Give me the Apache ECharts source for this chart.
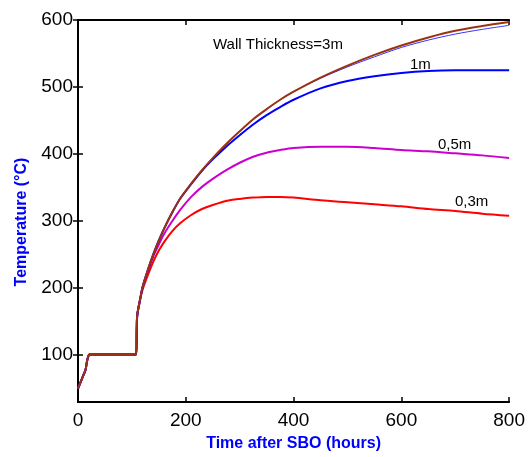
<!DOCTYPE html>
<html>
<head>
<meta charset="utf-8">
<script src="https://cdn.jsdelivr.net/npm/echarts@6/dist/echarts.min.js"></script>
<style>
  html, body { margin: 0; padding: 0; background: #fff; }
  #chart { width: 528px; height: 457px; }
</style>
</head>
<body>
<div id="chart"></div>
<script>
// time after SBO (hours), shared by all curves
const hours = [0, 5, 10, 14, 17, 20, 22, 108, 109, 110, 115, 120, 130, 140, 150, 160, 175, 190, 210, 230, 250, 275, 300, 325, 350, 375, 400, 450, 500, 550, 600, 650, 700, 750, 800];

// common start (heat-up + boiling plateau)
const start = [50, 60, 70, 78, 92, 100, 101, 101, 140, 160, 182];

// temperatures (°C) per wall thickness
const wall3m  = start.concat([202, 228, 251, 271, 289, 313, 334, 356, 376, 394, 415, 434, 452, 467, 481, 493, 514, 532, 548, 562, 574, 584, 591, 597]);
const wall2m  = start.concat([202, 228, 251, 271, 289, 313, 334, 356, 376, 394, 415, 434, 452, 467, 481, 493, 513, 530, 545, 559, 570, 579, 586, 592]);
const wall1m  = start.concat([202, 228, 251, 271, 289, 313, 334, 355, 375, 392, 411, 428, 444, 458, 470, 481, 498, 509, 516, 521, 524, 525, 525, 525]);
const wall05m = start.concat([202, 226, 248, 265, 281, 300, 317, 336, 351, 363, 376, 387, 396, 402, 406, 409, 411, 411, 409, 406, 404, 401, 398, 394]);
const wall03m = start.concat([198, 220, 240, 256, 269, 285, 297, 309, 318, 324, 330, 333, 335, 336, 336, 335, 331, 328, 325, 322, 318, 315, 311, 308]);

const xTicks = [0, 200, 400, 600, 800];
const yTicks = [100, 200, 300, 400, 500, 600];

const pairs = (ys) => hours.map((h, i) => [h, ys[i]]);

const chart = echarts.init(document.getElementById('chart'));

const lineSeries = (name, ys, color, width) => ({
    name: name,
    type: 'line',
    data: pairs(ys),
    showSymbol: false,
    smooth: 0.3,
    lineStyle: { color: color, width: width },
    itemStyle: { color: color },
    animation: false
});

const axisFont = { fontFamily: 'Liberation Sans', fontSize: 19, color: '#000' };
const frameLine = { show: true, lineStyle: { color: '#000', width: 2 } };
const tick = { inside: true, length: 5, lineStyle: { color: '#000', width: 1.5 } };

chart.setOption({
    backgroundColor: '#fff',
    animation: false,
    grid: { left: 78, top: 20, right: 18, bottom: 49 },
    xAxis: [{
        type: 'value', min: 0, max: 800, interval: 200,
        axisLine: frameLine,
        axisTick: tick,
        axisLabel: Object.assign({ margin: 9 }, axisFont),
        splitLine: { show: false },
        name: 'Time after SBO (hours)',
        nameLocation: 'middle',
        nameGap: 34,
        nameTextStyle: { color: '#0000ff', fontWeight: 'bold', fontSize: 16, fontFamily: 'Liberation Sans' }
    }, {
        type: 'value', position: 'top', min: 0, max: 800, interval: 200,
        axisLine: frameLine,
        axisTick: tick,
        axisLabel: { show: false },
        splitLine: { show: false }
    }],
    yAxis: [{
        type: 'value', min: 30, max: 600,
        axisLine: frameLine,
        axisTick: Object.assign({ customValues: yTicks }, tick),
        axisLabel: Object.assign({ margin: 5, customValues: yTicks }, axisFont),
        splitLine: { show: false }
    }, {
        type: 'value', position: 'right', min: 30, max: 600,
        axisLine: frameLine,
        axisTick: Object.assign({ customValues: yTicks }, tick),
        axisLabel: { show: false },
        splitLine: { show: false }
    }],
    series: [
        lineSeries('0,3m', wall03m, '#ff0000', 2),
        lineSeries('0,5m', wall05m, '#cc00cc', 2),
        lineSeries('1m', wall1m, '#0000ff', 2),
        lineSeries('2m', wall2m, '#3333ff', 1),
        lineSeries('3m', wall3m, '#993311', 2)
    ],
    graphic: [
        { type: 'text', x: 22, y: 222, rotation: Math.PI / 2, style: { text: 'Temperature (°C)', font: 'bold 16px "Liberation Sans"', fill: '#0000ff', align: 'center', verticalAlign: 'middle' } },
        { type: 'text', x: 213, y: 45, style: { text: 'Wall Thickness=3m', font: '15px "Liberation Sans"', fill: '#000', verticalAlign: 'middle' } },
        { type: 'text', x: 410, y: 65, style: { text: '1m', font: '15px "Liberation Sans"', fill: '#000', verticalAlign: 'middle' } },
        { type: 'text', x: 438, y: 145, style: { text: '0,5m', font: '15px "Liberation Sans"', fill: '#000', verticalAlign: 'middle' } },
        { type: 'text', x: 455, y: 202, style: { text: '0,3m', font: '15px "Liberation Sans"', fill: '#000', verticalAlign: 'middle' } }
    ]
});
</script>
</body>
</html>
